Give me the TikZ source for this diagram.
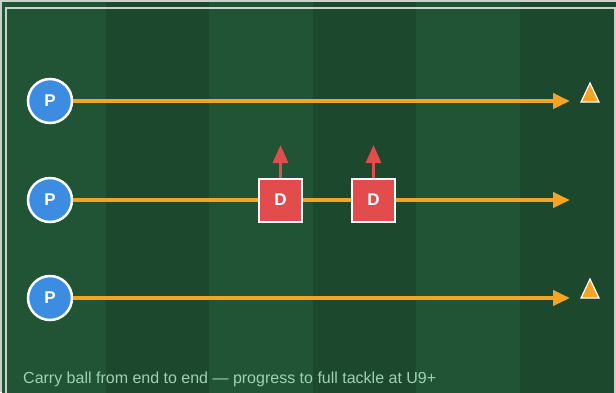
\documentclass[tikz,border=0pt]{standalone}
\usepackage{fontspec}
\setmainfont{Liberation Sans}
\usetikzlibrary{arrows.meta}
\definecolor{stripeA}{RGB}{33,83,53}
\definecolor{stripeB}{RGB}{28,72,45}
\definecolor{runorange}{RGB}{245,163,35}
\definecolor{playerblue}{RGB}{60,140,225}
\definecolor{defred}{RGB}{226,76,76}
\definecolor{notegreen}{RGB}{160,210,178}
\definecolor{edgegrey}{RGB}{205,208,205}
\tikzset{
  player/.style={circle, fill=playerblue, draw=white, line width=2.5pt, minimum size=44pt, inner sep=0pt, text=white, font=\bfseries\fontsize{17}{17}\selectfont},
  defender/.style={rectangle, fill=defred, draw=white, line width=2pt, minimum size=43pt, inner sep=0pt, text=white, font=\bfseries\fontsize{17}{17}\selectfont},
  run/.style={draw=runorange, line width=4pt, -{Triangle[length=17pt,width=15pt]}},
  push/.style={draw=defred, line width=3pt, -{Triangle[length=18pt,width=15pt]}},
  cone/.style={fill=runorange, draw=white, line width=1.2pt, line join=miter},
  note/.style={text=notegreen, font=\fontsize{16}{16}\selectfont, anchor=base west, inner sep=0pt}
}
\begin{document}
\begin{tikzpicture}[x=1pt,y=-1pt]
\useasboundingbox (0,0) rectangle (616,392);
\fill[edgegrey] (0,0) rectangle (616,392);
\foreach \i in {0,2,4} {\fill[stripeA] ({2+\i*103.5},2) rectangle ({2+(\i+1)*103.5},400);}
\foreach \i in {1,3,5} {\fill[stripeB] ({2+\i*103.5},2) rectangle ({2+(\i+1)*103.5},400);}
\draw[white, opacity=0.75, line width=1.5pt] (6,8) rectangle (615,400);
% arrow ends
\coordinate (e1) at (570,101);
\coordinate (e2) at (570,200);
\coordinate (e3) at (570,298);
% players
\node[player] (p1) at (50,101) {P};
\node[player] (p2) at (50,200) {P};
\node[player] (p3) at (50,298) {P};
\draw[run] (p1.east) -- (e1);
\draw[run] (p2.east) -- (e2);
\draw[run] (p3.east) -- (e3);
% defenders
\node[defender] (d1) at (280.5,200) {D};
\node[defender] (d2) at (373.5,200) {D};
\coordinate (t1) at (280.5,145);
\coordinate (t2) at (373.5,145);
\draw[push] (d1.north) -- (t1);
\draw[push] (d2.north) -- (t2);
% cones
\draw[cone] (590,83) -- (599,102) -- (581,102) -- cycle;
\draw[cone] (590,279) -- (599,298) -- (581,298) -- cycle;
% note
\node[note] (n) at (23,383) {Carry ball from end to end — progress to full tackle at U9+};
\end{tikzpicture}
\end{document}
